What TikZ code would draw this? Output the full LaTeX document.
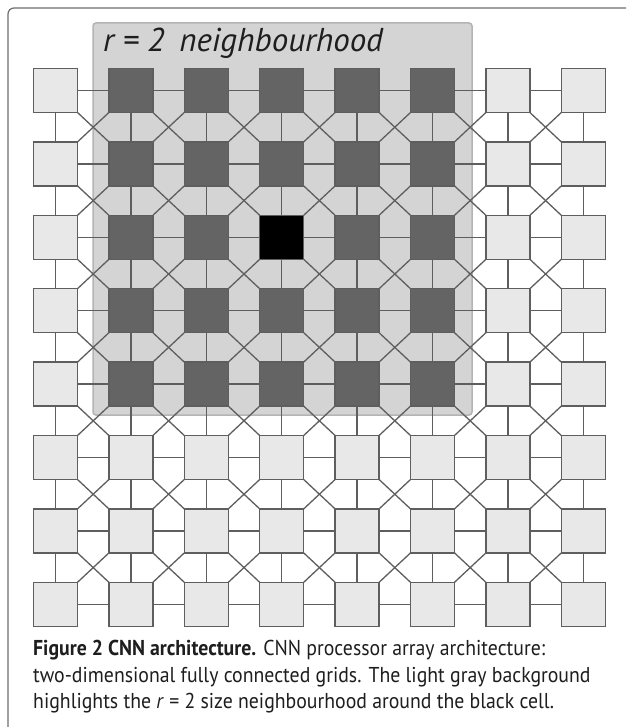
\documentclass[tikz,border=0pt]{standalone}
\usepackage{fontspec}
\setmainfont{PT Sans}
\newfontfamily\capfont[FakeStretch=0.92]{PT Sans}
\begin{document}
\begin{tikzpicture}[x=1pt,y=-1pt]
  % colours
  \definecolor{edgegray}{HTML}{5E5E5E}
  \definecolor{farcell}{HTML}{E8E8E8}
  \definecolor{nearcell}{HTML}{646464}
  \definecolor{centrecell}{HTML}{000000}
  \definecolor{nbhdfill}{HTML}{D4D4D4}
  \definecolor{nbhdedge}{HTML}{B4B4B4}
  \definecolor{inktext}{HTML}{1E1E1E}
  \tikzset{
    cell/.style={rectangle, draw=edgegray, line width=1.3pt, minimum size=44pt,
                 inner sep=0pt, outer sep=0pt},
    link/.style={draw=edgegray, line width=1.3pt},
    frame/.style={draw=edgegray!90, line width=1.2pt, rounded corners=6pt},
    captionline/.style={anchor=base west, inner sep=0pt, text=inktext,
                        font=\capfont\fontsize{21.5}{26}\selectfont},
  }
  \useasboundingbox (0,0) rectangle (626,727);
  \fill[white] (0,0) rectangle (626,727);

  % outer frame (top and left sides)
  \draw[frame] (626,8) -- (8,8) -- (8,727);

  % highlighted neighbourhood
  \draw[fill=nbhdfill, draw=nbhdedge, line width=1.5pt, rounded corners=3pt]
    (93,23) rectangle (472,415);
  \node[anchor=base west, inner sep=0pt, text=inktext,
        font=\fontsize{33}{36}\selectfont\itshape] (title) at (103,52)
        {r = 2\hspace{0.45em}neighbourhood};

  % processor cells
  \foreach \i in {1,...,8}{
    \foreach \j in {1,...,8}{
      \pgfmathtruncatemacro\inr{and(and(\i<6,\j>1),\j<7)}
      \pgfmathtruncatemacro\ctr{and(\i==3,\j==4)}
      \ifnum\ctr=1 \def\cellfill{centrecell}\else
        \ifnum\inr=1 \def\cellfill{nearcell}\else\def\cellfill{farcell}\fi\fi
      \node[cell, fill=\cellfill] (c-\i-\j)
        at ({55.5+75.4*(\j-1)},{90.5+73.4*(\i-1)}) {};
    }
  }

  % horizontal links
  \foreach \i in {1,...,8}{
    \foreach \j [evaluate=\j as \k using int(\j+1)] in {1,...,7}{
      \draw[link] (c-\i-\j.east) -- (c-\i-\k.west);
    }
  }
  % vertical links
  \foreach \i [evaluate=\i as \k using int(\i+1)] in {1,...,7}{
    \foreach \j in {1,...,8}{
      \draw[link] (c-\i-\j.south) -- (c-\k-\j.north);
    }
  }
  % diagonal links
  \foreach \i [evaluate=\i as \k using int(\i+1)] in {1,...,7}{
    \foreach \j [evaluate=\j as \m using int(\j+1)] in {1,...,7}{
      \draw[link] (c-\i-\j.south east) -- (c-\k-\m.north west);
      \draw[link] (c-\i-\m.south west) -- (c-\k-\j.north east);
    }
  }

  % caption
  \node[captionline] (cap1) at (33,655)
    {\textbf{Figure 2 CNN architecture.} CNN processor array architecture:};
  \node[captionline] (cap2) at (33,682)
    {two-dimensional fully connected grids. The light gray background};
  \node[captionline] (cap3) at (33,708)
    {highlights the \textit{r} = 2 size neighbourhood around the black cell.};
\end{tikzpicture}
\end{document}
